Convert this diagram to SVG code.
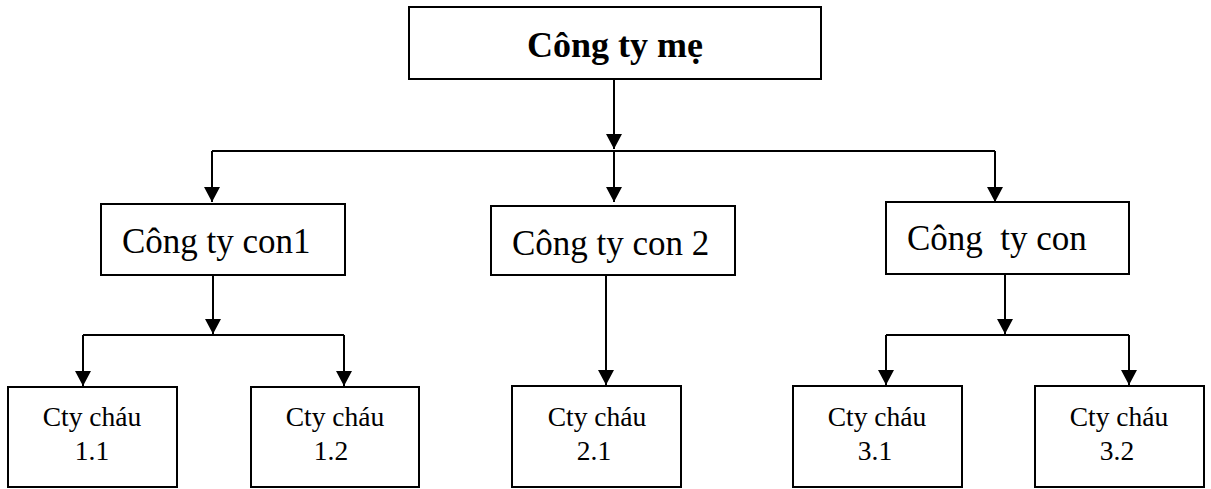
<svg xmlns="http://www.w3.org/2000/svg" width="1211" height="489" viewBox="0 0 1211 489">
<style>
.box{fill:#fff;stroke:#000;stroke-width:2}
.t{font-family:"Liberation Serif","Times New Roman",serif;fill:#000}
.top{font-size:36px;font-weight:bold}
.mid{font-size:35px;white-space:pre}
.sm{font-size:27.5px}
.c{fill:none;stroke:#000;stroke-width:2}
</style>
<defs>
<marker id="ah" markerUnits="userSpaceOnUse" viewBox="0 0 15 16" refX="15" refY="8" markerWidth="15" markerHeight="16" orient="auto">
<path d="M0,0 L15,8 L0,16 Z" fill="#000"/>
</marker>
</defs>
<g id="connectors">
<path class="c" d="M614,80 L614,149" marker-end="url(#ah)"/>
<path class="c" d="M212,151 L995,151"/>
<path class="c" d="M212,151 L212,202" marker-end="url(#ah)"/>
<path class="c" d="M614,151 L614,202" marker-end="url(#ah)"/>
<path class="c" d="M995,151 L995,202" marker-end="url(#ah)"/>
<path class="c" d="M213,275 L213,334" marker-end="url(#ah)"/>
<path class="c" d="M83,335 L344,335"/>
<path class="c" d="M83,335 L83,386" marker-end="url(#ah)"/>
<path class="c" d="M344,335 L344,386" marker-end="url(#ah)"/>
<path class="c" d="M606,275 L606,385" marker-end="url(#ah)"/>
<path class="c" d="M1005,274 L1005,334" marker-end="url(#ah)"/>
<path class="c" d="M886,335 L1129,335"/>
<path class="c" d="M886,335 L886,385" marker-end="url(#ah)"/>
<path class="c" d="M1129,335 L1129,385" marker-end="url(#ah)"/>
</g>
<g id="parent">
<rect class="box" x="409" y="7" width="412" height="72"/>
<text class="t top" x="615" y="57" text-anchor="middle">Công ty mẹ</text>
</g>
<g id="con1">
<rect class="box" x="101" y="204" width="244" height="71"/>
<text class="t mid" x="122" y="253">Công ty con1</text>
</g>
<g id="con2">
<rect class="box" x="491" y="206" width="244" height="69"/>
<text class="t mid" x="512" y="255">Công ty con 2</text>
</g>
<g id="con3">
<rect class="box" x="886" y="202" width="243" height="72"/>
<text class="t mid" x="907" y="250" xml:space="preserve">Công  ty con</text>
</g>
<g id="chau11">
<rect class="box" x="8" y="387" width="169" height="100"/>
<text class="t sm" x="92" y="426" text-anchor="middle">Cty cháu</text>
<text class="t sm" x="92" y="460" text-anchor="middle">1.1</text>
</g>
<g id="chau12">
<rect class="box" x="251" y="387" width="168" height="100"/>
<text class="t sm" x="335" y="426" text-anchor="middle">Cty cháu</text>
<text class="t sm" x="331" y="460" text-anchor="middle">1.2</text>
</g>
<g id="chau21">
<rect class="box" x="512" y="386" width="169" height="101"/>
<text class="t sm" x="597" y="426" text-anchor="middle">Cty cháu</text>
<text class="t sm" x="594" y="460" text-anchor="middle">2.1</text>
</g>
<g id="chau31">
<rect class="box" x="793" y="386" width="169" height="101"/>
<text class="t sm" x="877" y="426" text-anchor="middle">Cty cháu</text>
<text class="t sm" x="875" y="460" text-anchor="middle">3.1</text>
</g>
<g id="chau32">
<rect class="box" x="1035" y="386" width="169" height="101"/>
<text class="t sm" x="1119" y="426" text-anchor="middle">Cty cháu</text>
<text class="t sm" x="1117" y="460" text-anchor="middle">3.2</text>
</g>
</svg>
